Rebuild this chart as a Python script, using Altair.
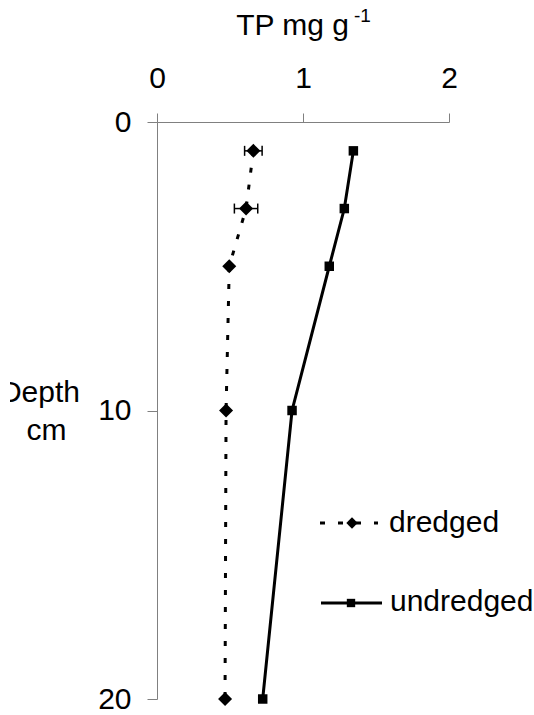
import altair as alt
import pandas as pd

# ---- data ----
depth = [1, 3, 5, 10, 20]
dredged = [0.66, 0.61, 0.495, 0.473, 0.466]
dredged_err = [0.06, 0.08, 0.0, 0.0, 0.0]
undredged = [1.345, 1.283, 1.18, 0.925, 0.724]
series_names = ["dredged", "undredged"]
x_ticks = [0, 1, 2]
y_ticks = [0, 10, 20]
x_title = ["TP mg g", "-1"]
y_title = ["Depth", "cm"]

FONT = "Liberation Sans"
FS = 30
GRAY = "#808080"

df_d = pd.DataFrame({
    "depth": depth,
    "tp": dredged,
    "lo": [v - e for v, e in zip(dredged, dredged_err)],
    "hi": [v + e for v, e in zip(dredged, dredged_err)],
})
df_u = pd.DataFrame({"depth": depth, "tp": undredged})
one = pd.DataFrame({"k": [0]})

xs = alt.Scale(domain=[0, 2], nice=False, zero=False)
ys = alt.Scale(domain=[0, 20], reverse=True, nice=False, zero=False)

x_axis = alt.Axis(orient="top", values=x_ticks, format=".0f", title=None, grid=False,
                  tickSize=9, tickColor=GRAY, domainColor=GRAY, tickWidth=1, domainWidth=1,
                  labelFont=FONT, labelFontSize=FS, labelColor="black",
                  labelPadding=26, labelBaseline="alphabetic", labelFlush=False,
                  labelOverlap=False)
y_axis = alt.Axis(values=y_ticks, format=".0f", title=None, grid=False,
                  tickSize=10, tickColor=GRAY, domainColor=GRAY, tickWidth=1, domainWidth=1,
                  labelFont=FONT, labelFontSize=FS, labelColor="black",
                  labelPadding=16, labelBaseline="middle", labelFlush=False,
                  labelOverlap=False)


def X(field):
    return alt.X(field, type="quantitative", scale=xs, axis=x_axis)


def Y(field):
    return alt.Y(field, type="quantitative", scale=ys, axis=y_axis)


err_rule = alt.Chart(df_d).mark_rule(color="black", strokeWidth=1.5).encode(
    x=X("lo"), x2="hi", y=Y("depth"))
cap_lo = alt.Chart(df_d).mark_tick(orient="vertical", color="black", size=10,
                                   thickness=1.5, opacity=1).encode(x=X("lo"), y=Y("depth"))
cap_hi = alt.Chart(df_d).mark_tick(orient="vertical", color="black", size=10,
                                   thickness=1.5, opacity=1).encode(x=X("hi"), y=Y("depth"))

line_d = alt.Chart(df_d).mark_line(color="black", strokeWidth=3, strokeDash=[5, 12]).encode(
    x=X("tp"), y=Y("depth"), order=alt.Order("depth"))
line_u = alt.Chart(df_u).mark_line(color="black", strokeWidth=3).encode(
    x=X("tp"), y=Y("depth"), order=alt.Order("depth"))
pts_d = alt.Chart(df_d).mark_point(shape="diamond", filled=True, size=196, color="black",
                                   opacity=1).encode(x=X("tp"), y=Y("depth"))
pts_u = alt.Chart(df_u).mark_point(shape="square", filled=True, size=90, color="black",
                                   opacity=1).encode(x=X("tp"), y=Y("depth"))

# titles
t_main = alt.Chart(one).mark_text(font=FONT, fontSize=FS, align="right", baseline="alphabetic",
                                  color="black").encode(
    x=alt.value(192), y=alt.value(-87), text=alt.value(x_title[0]))
t_sup = alt.Chart(one).mark_text(font=FONT, fontSize=19, align="left", baseline="alphabetic",
                                 color="black").encode(
    x=alt.value(197), y=alt.value(-100), text=alt.value(x_title[1]))
t_y1 = alt.Chart(one).mark_text(font=FONT, fontSize=FS, align="right", baseline="alphabetic",
                                color="black").encode(
    x=alt.value(-77), y=alt.value(280), text=alt.value(y_title[0]))
t_y2 = alt.Chart(one).mark_text(font=FONT, fontSize=FS, align="center", baseline="alphabetic",
                                color="black").encode(
    x=alt.value(-110.5), y=alt.value(318), text=alt.value(y_title[1]))
# the reference crops the left edge of the "Depth" label
crop = alt.Chart(one).mark_rect(color="white", opacity=1).encode(
    x=alt.value(-157), x2=alt.value(-147), y=alt.value(250), y2=alt.value(290))

# legend (drawn by hand)
leg_line_d = alt.Chart(one).mark_rule(color="black", strokeWidth=3, strokeDash=[5, 13]).encode(
    x=alt.value(163), x2=alt.value(221), y=alt.value(401))
leg_pt_d = alt.Chart(one).mark_point(shape="diamond", filled=True, size=130, color="black",
                                     opacity=1).encode(x=alt.value(195), y=alt.value(401))
leg_txt_d = alt.Chart(one).mark_text(font=FONT, fontSize=FS, align="left", baseline="alphabetic",
                                     color="black").encode(
    x=alt.value(232), y=alt.value(410), text=alt.value(series_names[0]))
leg_line_u = alt.Chart(one).mark_rule(color="black", strokeWidth=3).encode(
    x=alt.value(164), x2=alt.value(225), y=alt.value(481))
leg_pt_u = alt.Chart(one).mark_point(shape="square", filled=True, size=70, color="black",
                                     opacity=1).encode(x=alt.value(194), y=alt.value(481))
leg_txt_u = alt.Chart(one).mark_text(font=FONT, fontSize=FS, align="left", baseline="alphabetic",
                                     color="black").encode(
    x=alt.value(233), y=alt.value(489), text=alt.value(series_names[1]))

chart = alt.layer(
    err_rule, cap_lo, cap_hi, line_d, line_u, pts_d, pts_u,
    t_main, t_sup, t_y1, t_y2, crop,
    leg_line_d, leg_pt_d, leg_txt_d, leg_line_u, leg_pt_u, leg_txt_u,
).properties(
    width=292, height=577,
    padding={"left": 157, "top": 122, "right": 85, "bottom": 16},
    autosize=alt.AutoSizeParams(type="none"),
    background="white",
).configure_view(stroke=None)

chart.save("out.html", embed_options={"renderer": "svg", "actions": False})
